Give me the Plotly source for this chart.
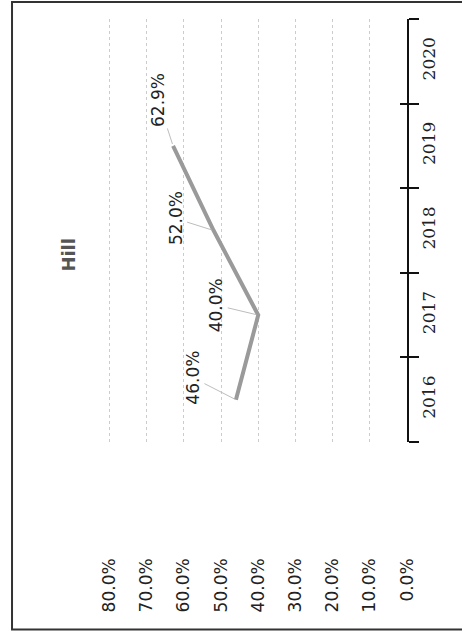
import plotly.graph_objects as go

years = ["2016", "2017", "2018", "2019", "2020"]
data_years = ["2016", "2017", "2018", "2019"]
values = [46.0, 40.0, 52.0, 62.9]
label_texts = ["46.0%", "40.0%", "52.0%", "62.9%"]
label_dx = [-43, -42, -38, -15]
label_dy = [-22, -10, -12, -46]
value_ticks = [0, 10, 20, 30, 40, 50, 60, 70, 80]
value_tick_text = ["0.0%", "10.0%", "20.0%", "30.0%", "40.0%", "50.0%", "60.0%", "70.0%", "80.0%"]
title_text = "Hill"

fig = go.Figure()
fig.add_trace(go.Scatter(
    x=values, y=data_years, mode="lines",
    line=dict(color="#9a9a9a", width=4),
    hoverinfo="skip", showlegend=False,
))
fig.add_trace(go.Scatter(
    x=values, y=data_years, mode="lines", yaxis="y2",
    line=dict(color="rgba(0,0,0,0)", width=0),
    hoverinfo="skip", showlegend=False,
))

for xv, yv, t, dx, dy in zip(values, data_years, label_texts, label_dx, label_dy):
    fig.add_annotation(
        xref="x", yref="y",
        x=xv, y=years.index(yv), text=t, textangle=-90,
        showarrow=True, arrowhead=0, arrowwidth=1, arrowcolor="#bdbdbd",
        axref="pixel", ayref="pixel",
        ax=dx, ay=dy, standoff=2,
        font=dict(family="DejaVu Sans", size=17, color="#222"),
    )

fig.add_annotation(
    xref="paper", yref="paper", x=-0.177, y=0.442, text="<b>" + title_text + "</b>",
    textangle=-90, showarrow=False,
    font=dict(family="DejaVu Sans", size=18, color="#555"),
)

fig.add_shape(type="rect", xref="paper", yref="paper",
              x0=-0.321, x1=1.25, y0=-0.443, y1=1.04,
              line=dict(color="#333", width=2), fillcolor="rgba(0,0,0,0)")

common_y = dict(
    type="category", categoryorder="array", categoryarray=years,
    range=[-0.5, 4.5], tickson="boundaries", side="right",
)

fig.update_layout(
    width=462, height=638,
    margin=dict(l=108, r=55, t=19, b=196),
    paper_bgcolor="white", plot_bgcolor="white",
    xaxis=dict(
        range=[80.4, 0], tickvals=value_ticks, ticktext=value_tick_text,
        tickangle=-90, showgrid=True, gridcolor="#cccccc", griddash="dot",
        gridwidth=1, zeroline=False, showline=False, ticks="",
        ticklabelstandoff=112,
        tickfont=dict(family="DejaVu Sans", size=17, color="#222"),
    ),
    yaxis=dict(
        **common_y, showline=True, linecolor="#111", linewidth=2,
        ticks="outside", ticklen=10, tickwidth=2, tickcolor="#111",
        tickangle=-90, showgrid=False, ticklabelstandoff=6,
        tickfont=dict(family="DejaVu Serif", size=17, color="#222"),
    ),
    yaxis2=dict(
        **common_y, overlaying="y", anchor="x", showline=False,
        ticks="inside", ticklen=7, tickwidth=2, tickcolor="#111",
        showticklabels=False, showgrid=False,
    ),
)

fig.write_html("out.html")
